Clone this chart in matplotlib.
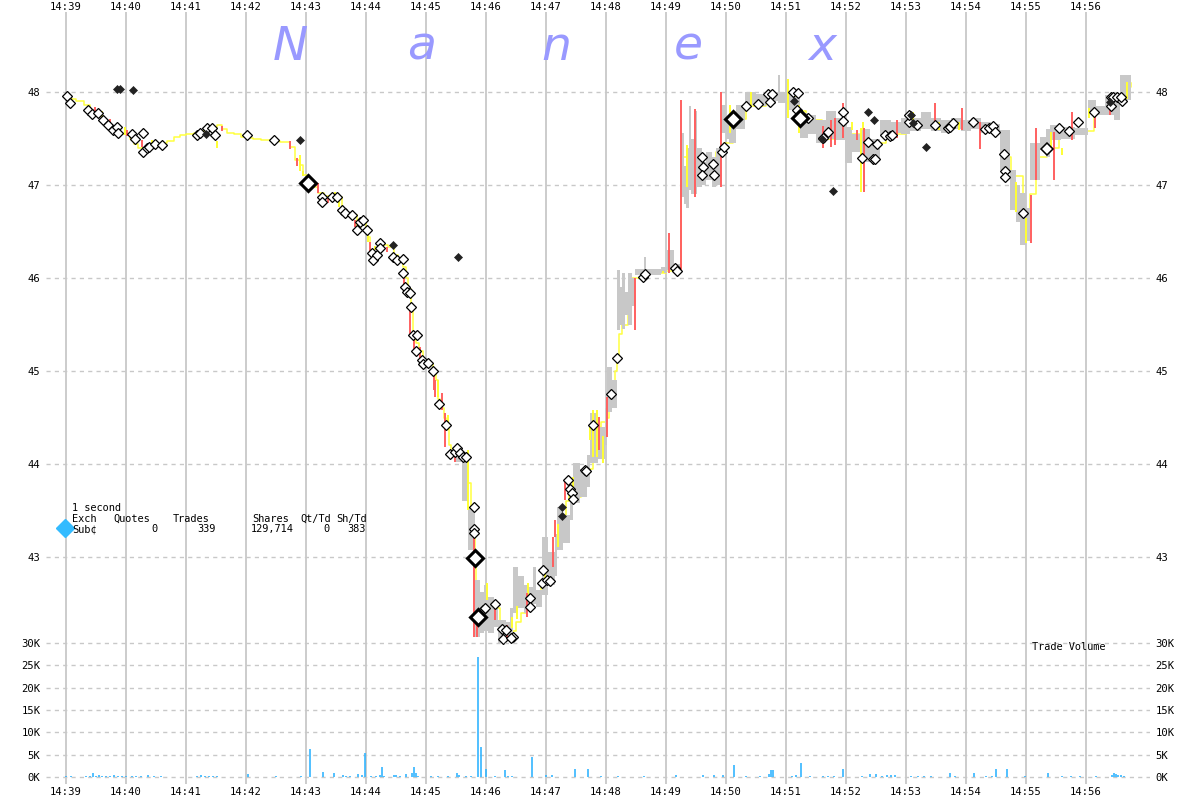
import matplotlib
matplotlib.use("Agg")
import matplotlib.pyplot as plt
import numpy as np

# time axis: seconds after 14:39:00
minute_labels = ["14:39", "14:40", "14:41", "14:42", "14:43", "14:44", "14:45", "14:46", "14:47",
                 "14:48", "14:49", "14:50", "14:51", "14:52", "14:53", "14:54", "14:55", "14:56"]
price_ticks = [43, 44, 45, 46, 47, 48]
vol_ticks = [0, 5000, 10000, 15000, 20000, 25000, 30000]
vol_labels = ["0K", "5K", "10K", "15K", "20K", "25K", "30K"]

# price path (trades / quotes midline)
path_t = [0, 5, 10, 18, 24, 30, 36, 42, 48, 54, 60, 64, 68, 72, 78, 84, 90, 96, 101, 108, 114, 120,
          128, 134, 140, 146, 151, 156, 161, 168, 175, 181, 187, 195, 205, 214, 221, 224, 229, 234,
          237, 241, 246, 252, 258, 265, 270, 276, 280, 286, 291, 295, 300, 302, 304, 308, 312, 316,
          322, 328, 332, 337, 340, 342, 345, 347, 350, 353, 357, 362, 367, 370, 372, 374, 378, 380,
          383, 385, 390, 394, 398, 400, 402, 405, 408, 409, 410, 412, 416, 420, 426, 430, 434, 436,
          440, 444, 447, 450, 455, 460, 465, 470, 475, 478, 482, 486, 490, 494, 497, 500, 503, 506,
          510, 515, 519, 522, 527, 530, 535, 540, 543, 546, 549, 551, 553, 556, 562, 565, 578, 600,
          612, 615, 630, 640, 650, 658, 667, 680, 700, 720, 730, 740, 756, 770, 780, 800, 812, 820,
          840, 870, 900, 930, 938, 945, 957, 964, 970, 981, 993, 1010, 1028, 1045, 1060, 1065]
path_p = [47.96, 47.92, 47.90, 47.86, 47.80, 47.74, 47.68, 47.62, 47.58, 47.55, 47.55, 47.50, 47.44,
          47.40, 47.38, 47.42, 47.44, 47.45, 47.47, 47.52, 47.54, 47.55, 47.56, 47.58, 47.60, 47.62,
          47.64, 47.60, 47.56, 47.55, 47.52, 47.51, 47.49, 47.48, 47.47, 47.46, 47.46, 47.41, 47.27,
          47.22, 47.11, 47.02, 46.98, 46.91, 46.88, 46.87, 46.87, 46.73, 46.70, 46.68, 46.55, 46.60,
          46.52, 46.44, 46.30, 46.26, 46.30, 46.36, 46.33, 46.25, 46.21, 46.12, 46.00, 45.88, 45.70,
          45.40, 45.30, 45.21, 45.10, 45.08, 45.00, 44.90, 44.70, 44.60, 44.50, 44.40, 44.20, 44.10,
          44.12, 44.10, 44.08, 44.00, 43.80, 43.55, 43.30, 43.00, 42.70, 42.35, 42.42, 42.45, 42.40,
          42.45, 42.30, 42.22, 42.15, 42.14, 42.20, 42.30, 42.40, 42.50, 42.55, 42.60, 42.70, 42.75,
          42.80, 42.90, 43.10, 43.30, 43.45, 43.60, 43.75, 43.70, 43.65, 43.80, 43.90, 43.95, 44.20,
          44.40, 44.45, 44.50, 44.70, 44.80, 45.00, 45.15, 45.40, 45.50, 45.70, 46.00, 46.05, 46.08,
          46.10, 47.30, 47.20, 47.20, 47.35, 47.45, 47.71, 47.85, 47.95, 47.98, 47.80, 47.70, 47.50,
          47.60, 47.55, 47.40, 47.45, 47.55, 47.65, 47.65, 47.65, 47.57, 47.30, 47.10, 46.70, 46.90,
          47.30, 47.40, 47.60, 47.58, 47.78, 47.92, 48.05, 48.10]

# bid/ask spread band
band_t = [390, 396, 402, 409, 414, 418, 422, 428, 432, 440, 444, 447, 452, 458, 462, 467, 470, 476,
          482, 489, 491, 497, 504, 507, 514, 521, 524, 532, 539, 541, 546, 551, 554, 556, 559, 562,
          566, 569, 578, 580, 585, 595, 601, 608, 615, 618, 620, 623, 625, 628, 631, 636, 640, 646,
          650, 655, 660, 663, 670, 679, 690, 700, 710, 712, 714, 720, 728, 734, 742, 750, 760, 770,
          779, 786, 795, 804, 814, 825, 835, 844, 855, 865, 875, 885, 895, 905, 915, 925, 934, 944,
          950, 954, 960, 964, 974, 980, 984, 995, 1009, 1022, 1030, 1039, 1048, 1054, 1065]
band_lo = [44.02, 43.60, 43.08, 42.14, 42.18, 42.20, 42.18, 42.25, 42.08, 42.10, 42.15, 42.40, 42.45,
           42.40, 42.46, 42.50, 42.46, 42.59, 42.70, 42.80, 43.08, 43.15, 43.40, 43.58, 43.65, 43.75,
           44.01, 44.05, 44.20, 44.56, 44.60, 45.44, 45.50, 45.45, 45.60, 45.50, 45.70, 46.03, 46.03,
           46.03, 46.03, 46.05, 46.09, 46.08, 46.87, 46.80, 46.75, 46.95, 46.90, 46.90, 46.98, 47.00,
           47.05, 46.98, 47.00, 47.56, 47.50, 47.45, 47.60, 47.86, 47.85, 47.87, 47.90, 47.88, 47.88,
           47.81, 47.78, 47.51, 47.55, 47.45, 47.50, 47.48, 47.24, 47.35, 47.25, 47.28, 47.54, 47.56,
           47.55, 47.58, 47.60, 47.58, 47.56, 47.60, 47.58, 47.60, 47.56, 47.55, 47.16, 46.73, 46.60,
           46.35, 46.40, 47.05, 47.38, 47.30, 47.48, 47.50, 47.54, 47.77, 47.75, 47.75, 47.70, 47.91,
           47.95]
band_hi = [44.18, 44.05, 43.53, 42.75, 42.62, 42.70, 42.57, 42.50, 42.32, 42.30, 42.45, 42.89, 42.80,
           42.70, 42.68, 42.89, 42.65, 43.21, 43.05, 43.25, 43.54, 43.45, 43.75, 44.01, 43.95, 44.10,
           44.55, 44.40, 44.60, 45.04, 44.90, 46.09, 45.90, 46.05, 45.85, 46.05, 46.00, 46.10, 46.23,
           46.10, 46.10, 46.12, 46.30, 46.15, 47.56, 47.20, 47.40, 47.85, 47.50, 47.80, 47.40, 47.25,
           47.35, 47.30, 47.40, 47.86, 47.70, 47.75, 47.86, 48.00, 47.98, 48.00, 48.00, 48.18, 48.00,
           48.00, 47.95, 47.77, 47.75, 47.70, 47.80, 47.72, 47.62, 47.55, 47.60, 47.50, 47.70, 47.68,
           47.72, 47.72, 47.78, 47.72, 47.70, 47.72, 47.70, 47.72, 47.68, 47.66, 47.59, 47.16, 47.00,
           46.91, 46.75, 47.45, 47.52, 47.60, 47.65, 47.62, 47.61, 47.91, 47.85, 47.97, 47.95, 48.18,
           48.10]

# red (down-tick) quote bars
red_t = [29, 44, 61, 76, 156, 224, 231, 247, 252, 262, 289, 304, 321, 338, 344, 348, 354, 368, 369,
         376, 379, 389, 408, 411, 429, 441, 461, 487, 489, 499, 533, 541, 569, 603, 615, 629, 655,
         757, 765, 769, 777, 791, 798, 831, 869, 896, 914, 965, 970, 988, 1006, 1029, 1044]
red_lo = [47.77, 47.65, 47.53, 47.41, 47.58, 47.39, 47.20, 46.99, 46.91, 46.81, 46.55, 46.27, 46.28,
          45.92, 45.37, 45.23, 45.12, 44.80, 44.72, 44.58, 44.18, 44.02, 42.14, 42.14, 42.32, 42.11,
          42.35, 42.89, 43.22, 43.61, 44.15, 44.29, 45.44, 46.05, 46.05, 46.87, 46.98, 47.40, 47.41,
          47.43, 47.51, 47.48, 46.92, 47.51, 47.59, 47.59, 47.39, 46.38, 47.05, 47.05, 47.48, 47.61,
          47.75]
red_hi = [47.84, 47.71, 47.59, 47.48, 47.63, 47.47, 47.29, 47.04, 47.02, 46.86, 46.62, 46.39, 46.33,
          46.03, 45.69, 45.33, 45.26, 45.01, 44.90, 44.76, 44.55, 44.18, 43.22, 42.32, 42.46, 42.27,
          42.61, 43.22, 43.40, 43.83, 44.51, 44.72, 46.00, 46.48, 47.91, 47.82, 48.00, 47.63, 47.70,
          47.72, 47.88, 47.59, 47.61, 47.70, 47.88, 47.83, 47.68, 46.89, 47.61, 47.57, 47.78, 47.73,
          47.83]

# yellow (up-tick) quote bars
yel_t = [2, 24, 36, 59, 68, 86, 151, 234, 237, 269, 273, 281, 302, 309, 337, 372, 382, 402, 421,
         446, 451, 462, 479, 492, 507, 524, 527, 531, 537, 597, 621, 664, 685, 722, 733, 786, 795,
         797, 847, 873, 893, 950, 960, 985, 996, 1023, 1061]
yel_lo = [47.88, 47.76, 47.73, 47.54, 47.45, 47.43, 47.40, 47.15, 47.10, 46.86, 46.76, 46.68, 46.39,
          46.30, 46.03, 44.72, 44.37, 43.51, 42.54, 42.24, 42.33, 42.54, 42.75, 43.11, 43.72, 44.26,
          44.08, 44.08, 44.01, 46.05, 46.98, 47.56, 47.86, 47.72, 47.56, 47.59, 46.92, 47.59, 47.68,
          47.59, 47.59, 46.71, 46.38, 47.39, 47.32, 47.72, 47.92]
yel_hi = [47.91, 47.82, 47.80, 47.62, 47.53, 47.48, 47.47, 47.32, 47.15, 46.92, 46.86, 46.73, 46.51,
          46.34, 46.09, 44.90, 44.53, 44.15, 42.72, 42.35, 42.47, 42.72, 42.89, 43.35, 43.86, 44.40,
          44.58, 44.58, 44.30, 46.08, 47.43, 47.86, 48.00, 48.14, 47.86, 47.68, 47.61, 47.68, 47.78,
          47.68, 47.68, 47.03, 46.65, 47.57, 47.40, 47.83, 48.11]

# trades (open diamonds)
trade_t = [1, 4, 22, 26, 32, 37, 42, 47, 51, 52, 66, 69, 77, 77, 81, 83, 89, 96, 131, 134, 141, 146,
           149, 181, 208, 256, 256, 266, 271, 276, 279, 286, 291, 294, 297, 301, 306, 307, 311, 314,
           314, 327, 331, 337, 337, 339, 341, 344, 345, 347, 351, 350, 356, 357, 362, 367, 373, 380,
           384, 389, 391, 394, 397, 400, 408, 408, 408, 417, 419, 429, 436, 440, 447, 437, 445, 464,
           464, 477, 476, 481, 484, 502, 504, 506, 507, 519, 520, 527, 545, 551, 577, 579, 609, 611,
           636, 637, 636, 647, 648, 656, 658, 680, 692, 702, 706, 704, 727, 732, 731, 742, 757, 762,
           777, 777, 796, 802, 807, 809, 811, 819, 824, 826, 843, 843, 851, 869, 882, 884, 887, 907,
           919, 923, 927, 929, 938, 939, 939, 957, 993, 1003, 1012, 1028, 1045, 1047, 1045, 1051,
           1056, 1055]
trade_p = [47.96, 47.88, 47.81, 47.76, 47.77, 47.70, 47.65, 47.59, 47.62, 47.56, 47.55, 47.49, 47.56,
           47.35, 47.40, 47.41, 47.44, 47.43, 47.54, 47.56, 47.61, 47.61, 47.54, 47.54, 47.48, 46.87,
           46.82, 46.87, 46.87, 46.73, 46.70, 46.68, 46.52, 46.60, 46.62, 46.52, 46.27, 46.19, 46.25,
           46.38, 46.32, 46.23, 46.19, 46.20, 46.05, 45.90, 45.85, 45.84, 45.69, 45.39, 45.39, 45.21,
           45.12, 45.08, 45.09, 45.00, 44.65, 44.42, 44.11, 44.13, 44.17, 44.12, 44.08, 44.08, 43.54,
           43.30, 43.26, 42.43, 42.45, 42.49, 42.23, 42.22, 42.14, 42.12, 42.13, 42.56, 42.46, 42.86,
           42.72, 42.75, 42.74, 43.83, 43.73, 43.69, 43.62, 43.94, 43.92, 44.42, 44.75, 45.14, 46.01,
           46.04, 46.11, 46.08, 47.30, 47.19, 47.11, 47.23, 47.11, 47.35, 47.41, 47.85, 47.87, 47.98,
           47.98, 47.89, 48.00, 47.99, 47.81, 47.72, 47.51, 47.57, 47.78, 47.69, 47.29, 47.46, 47.28,
           47.28, 47.44, 47.54, 47.53, 47.54, 47.68, 47.75, 47.65, 47.65, 47.61, 47.62, 47.67, 47.68,
           47.60, 47.61, 47.63, 47.57, 47.33, 47.15, 47.09, 46.70, 47.61, 47.58, 47.68, 47.78, 47.95,
           47.95, 47.85, 47.95, 47.90, 47.95]

# large trades
big_t = [242, 409, 412, 667, 734]
big_p = [47.02, 42.99, 42.35, 47.71, 47.72]
mid_t = [981]
mid_p = [47.39]

# off-exchange / other prints (filled diamonds)
dark_t = [51, 54, 67, 140, 234, 327, 392, 496, 496, 728, 756, 767, 802, 808, 845, 847, 860, 1044]
dark_p = [48.03, 48.03, 48.02, 47.55, 47.48, 46.35, 46.23, 43.54, 43.44, 47.90, 47.49, 46.94, 47.78,
          47.70, 47.75, 47.67, 47.41, 47.89]

# trade volume per second (shares)
vol_t = [0, 5, 20, 24, 27, 30, 33, 36, 40, 44, 48, 52, 56, 60, 66, 70, 75, 82, 88, 95, 131, 135,
         139, 143, 147, 151, 182, 210, 235, 244, 257, 268, 277, 280, 284, 292, 296, 299, 305, 310,
         314, 316, 318, 328, 330, 334, 340, 346, 348, 350, 352, 365, 372, 382, 391, 393, 400, 405,
         412, 415, 420, 429, 439, 442, 446, 466, 480, 486, 509, 522, 535, 552, 578, 610, 637, 648,
         657, 668, 680, 694, 703, 705, 707, 726, 730, 735, 744, 757, 762, 768, 777, 796, 804, 810,
         816, 821, 825, 829, 845, 852, 858, 865, 884, 889, 908, 920, 926, 930, 941, 959, 982, 996,
         1005, 1014, 1030, 1046, 1048, 1050, 1052, 1055, 1058]
vol_v = [200, 200, 200, 200, 900, 200, 400, 200, 200, 300, 400, 300, 200, 300, 200, 300, 200, 400,
         200, 200, 300, 400, 300, 300, 200, 200, 700, 200, 300, 6300, 1100, 800, 400, 300, 200, 700,
         400, 5300, 300, 200, 500, 2300, 300, 400, 500, 300, 600, 900, 2200, 900, 300, 200, 200,
         300, 900, 500, 200, 200, 26900, 6800, 1800, 200, 1600, 300, 200, 4500, 400, 500, 1800,
         1800, 200, 300, 200, 400, 500, 400, 500, 2700, 300, 300, 600, 1600, 1600, 300, 400, 3100,
         200, 200, 200, 200, 1800, 200, 700, 600, 300, 400, 400, 400, 200, 200, 200, 200, 1000,
         200, 1000, 200, 300, 1800, 1800, 200, 900, 200, 200, 200, 200, 500, 1000, 700, 500, 400,
         300]

W, H = 1200, 800
fig = plt.figure(figsize=(12, 8), dpi=100, facecolor="white")


def fx(x):
    return x / W


def fy(y):
    return 1 - y / H


ax_l, ax_r, ax_t, ax_b = 46, 1150, 12, 784
pos = [fx(ax_l), fy(ax_b), (ax_r - ax_l) / W, (ax_b - ax_t) / H]
ax = fig.add_axes(pos)
ax.set_facecolor("none")

# pixel mapping: 1 second per px, 14:39 at x=66; 93 px per dollar, 48 at y=92
ax.set_xlim(ax_l - 66, ax_r - 66)
ax.set_ylim(48 - (ax_b - 92) / 93, 48 + (92 - ax_t) / 93)

grid_c = "#c8c8c8"
mono = "DejaVu Sans Mono"
tick_fs = 7.6

for k in range(len(minute_labels)):
    ax.axvline(k * 60, color=grid_c, lw=1.3, zorder=0)
for p in price_ticks:
    ax.axhline(p, color=grid_c, lw=1, ls=(0, (3, 3)), zorder=0)

for s in ax.spines.values():
    s.set_visible(False)
ax.set_xticks([k * 60 for k in range(len(minute_labels))])
ax.set_xticklabels(minute_labels, fontfamily=mono, fontsize=tick_fs)
ax.set_yticks(price_ticks)
ax.set_yticklabels([str(p) for p in price_ticks], fontfamily=mono, fontsize=tick_fs)
ax.tick_params(axis="x", length=0, top=False, labeltop=False, bottom=True, labelbottom=True, pad=2)
ax.tick_params(axis="y", length=0, left=True, right=True, labelleft=True, labelright=True, pad=4)
# top time labels
for k, lab in enumerate(minute_labels):
    fig.text(fx(66 + 60 * k), fy(7), lab, family=mono, fontsize=tick_fs, ha="center", va="center")

# price marks
ax.step(path_t, path_p, where="post", color="#ffff40", lw=1.1, zorder=2)
ax.fill_between(band_t, band_lo, band_hi, step="post", color="#c8c8c8", lw=0, zorder=3)
ax.vlines(yel_t, yel_lo, yel_hi, color="#ffff33", lw=1.4, zorder=4)
ax.vlines(red_t, red_lo, red_hi, color="#ff6060", lw=1.4, zorder=4)
ax.plot(trade_t, trade_p, ls="none", marker="D", ms=4.6, mfc="white", mec="black", mew=0.9, zorder=6)
ax.plot(mid_t, mid_p, ls="none", marker="D", ms=6.5, mfc="white", mec="black", mew=1.1, zorder=6)
ax.plot(big_t, big_p, ls="none", marker="D", ms=8.5, mfc="white", mec="black", mew=2.2, zorder=7)
ax.plot(dark_t, dark_p, ls="none", marker="D", ms=4.2, mfc="#222222", mec="#222222", mew=0.5, zorder=6)

# volume panel (same box, own scale: 0 at y=777, 30K at y=643)
axv = fig.add_axes(pos, sharex=ax)
axv.set_facecolor("none")
kpx = (777 - 643) / 30000
axv.set_ylim(-(ax_b - 777) / kpx, (777 - ax_t) / kpx)
for v in vol_ticks:
    axv.axhline(v, color=grid_c, lw=1, ls=(0, (3, 3)), zorder=0)
axv.vlines(vol_t, 0, vol_v, color="#33b5ff", lw=1.2, zorder=2)
for s in axv.spines.values():
    s.set_visible(False)
axv.set_yticks(vol_ticks)
axv.set_yticklabels(vol_labels, fontfamily=mono, fontsize=tick_fs)
axv.tick_params(axis="y", length=0, left=True, right=True, labelleft=True, labelright=True, pad=4)
axv.tick_params(axis="x", length=0, labelbottom=False, labeltop=False)

# watermark
for ch, x in zip("Nanex", [290, 422, 556, 688, 822]):
    fig.text(fx(x), fy(60), ch, color="#9999ff", fontsize=34, style="italic",
             family="DejaVu Sans", ha="center", va="baseline")

# legend block
lg_fs = 7.4
fig.text(fx(72), fy(508), "1 second", family=mono, fontsize=lg_fs, va="center")
heads = [("Exch", 72, "left"), ("Quotes", 113, "left"), ("Trades", 173, "left"),
         ("Shares", 252, "left"), ("Qt/Td", 300, "left"), ("Sh/Td", 336, "left")]
for txt, x, ha in heads:
    fig.text(fx(x), fy(519), txt, family=mono, fontsize=lg_fs, va="center", ha=ha)
vals = [("Sub\u00a2", 72, "left"), ("0", 157, "right"), ("339", 216, "right"),
        ("129,714", 294, "right"), ("0", 330, "right"), ("383", 366, "right")]
for txt, x, ha in vals:
    fig.text(fx(x), fy(529), txt, family=mono, fontsize=lg_fs, va="center", ha=ha)
ax.plot([fx(65)], [fy(528)], transform=fig.transFigure, marker="D", ms=9,
        color="#33bbff", clip_on=False, zorder=8)

fig.text(fx(1032), fy(647), "Trade Volume", family=mono, fontsize=lg_fs, va="center")

fig.savefig("out.png", dpi=100, facecolor="white")
